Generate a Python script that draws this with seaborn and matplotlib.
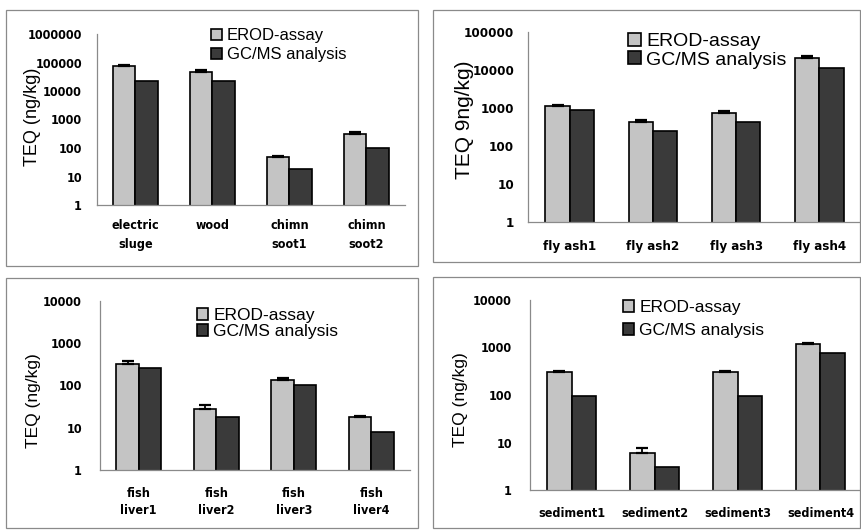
import matplotlib
matplotlib.use("Agg")
import matplotlib.pyplot as plt
import seaborn as sns
import pandas as pd
import numpy as np
from matplotlib.patches import Rectangle

# ---------------- data ----------------
methods = ["EROD-assay", "GC/MS analysis"]

samples_a = ["electric\nsluge", "wood", "chimn\nsoot1", "chimn\nsoot2"]
erod_a = [76000, 48000, 47, 320]
gcms_a = [23000, 22000, 18, 103]
err_a = [8000, 5000, 6, 45]

samples_b = ["fly ash1", "fly ash2", "fly ash3", "fly ash4"]
erod_b = [1100, 430, 720, 21000]
gcms_b = [870, 255, 430, 11000]
err_b = [120, 60, 90, 2500]

samples_c = ["fish\nliver1", "fish\nliver2", "fish\nliver3", "fish\nliver4"]
erod_c = [330, 28, 135, 17.5]
gcms_c = [255, 17.5, 103, 7.8]
err_c = [45, 6, 12, 1.7]

samples_d = ["sediment1", "sediment2", "sediment3", "sediment4"]
erod_d = [300, 5.9, 300, 1180]
gcms_d = [96, 3.1, 96, 780]
err_d = [25, 1.8, 25, 80]

ylabels = ["TEQ (ng/kg)", "TEQ 9ng/kg)", "TEQ (ng/kg)", "TEQ (ng/kg)"]
max_decades = [6, 5, 4, 4]

# ---------------- style ----------------
sns.set_theme(style="white")
plt.rcParams["font.family"] = ["Liberation Sans", "DejaVu Sans"]
plt.rcParams["text.color"] = "black"
plt.rcParams["axes.labelcolor"] = "black"
plt.rcParams["xtick.color"] = "black"
plt.rcParams["ytick.color"] = "black"

W, H = 862, 530
fig = plt.figure(figsize=(W / 100, H / 100), dpi=100)


def fr(l, t, r, b):
    return [l / W, 1 - b / H, (r - l) / W, (b - t) / H]


layout = [
    dict(box=(97, 34, 405, 205), ylab=(-0.208, 0.518, 13), leg=(211, 28, 12, 0.25),
         xpad=10, ypad=10.8, ls=1.6, tfs=9),
    dict(box=(528, 32, 861, 222), ylab=(-0.192, 0.537, 15), leg=(628, 33, 14, 0.05),
         xpad=13, ypad=10, ls=1.5, tfs=9.5),
    dict(box=(100, 301, 410, 470), ylab=(-0.216, 0.408, 12.5), leg=(197, 308, 12.5, 0.05),
         xpad=12, ypad=13, ls=1.45, tfs=9),
    dict(box=(530, 300, 862, 490), ylab=(-0.208, 0.474, 12.5), leg=(623, 300, 12.5, 0.45),
         xpad=12, ypad=13, ls=1.5, tfs=9),
]

frames = [(6, 10, 418, 266), (433, 10, 860, 262), (6, 278, 418, 528), (433, 277, 860, 528)]
for (l, t, r, b) in frames:
    fig.patches.append(Rectangle((l / W, 1 - b / H), (r - l) / W, (b - t) / H,
                                 transform=fig.transFigure, fill=False,
                                 edgecolor="#8a8a8a", linewidth=0.9))

panels = [
    (samples_a, erod_a, gcms_a, err_a),
    (samples_b, erod_b, gcms_b, err_b),
    (samples_c, erod_c, gcms_c, err_c),
    (samples_d, erod_d, gcms_d, err_d),
]

light, dark = "#c4c4c4", "#3a3a3a"

for i, ((samples, erod, gcms, err), lay) in enumerate(zip(panels, layout)):
    tick_font = dict(family="DejaVu Sans", weight="bold", stretch="condensed",
                     size=lay["tfs"], color="black")
    ax = fig.add_axes(fr(*lay["box"]))
    df = pd.DataFrame({
        "sample": samples * 2,
        "teq": list(erod) + list(gcms),
        "method": [methods[0]] * len(samples) + [methods[1]] * len(samples),
    })
    ax.set_yscale("log")
    sns.barplot(data=df, x="sample", y="teq", hue="method", hue_order=methods,
                palette=[light, dark], width=0.58, gap=0, edgecolor="black",
                linewidth=1.2, saturation=1, ax=ax)
    # error bars on EROD bars (upper only)
    bars = ax.containers[0]
    xs = [p.get_x() + p.get_width() / 2 for p in bars]
    ax.errorbar(xs, erod, yerr=[np.zeros(len(err)), err], fmt="none",
                ecolor="black", elinewidth=1.3, capsize=4.5, capthick=1.6, zorder=1)

    n = max_decades[i]
    ax.set_ylim(1, 10 ** n)
    ticks = [10 ** k for k in range(n + 1)]
    ax.set_yticks(ticks)
    ax.set_yticklabels([str(t) for t in ticks], fontdict=tick_font)
    ax.yaxis.set_minor_locator(matplotlib.ticker.NullLocator())
    ax.set_xlim(-0.5, len(samples) - 0.5)
    ax.set_xticks(range(len(samples)))
    ax.set_xticklabels(samples, fontdict=tick_font, linespacing=lay["ls"])
    ax.set_xticks([k + 0.5 for k in range(len(samples) - 1)], minor=True)
    ax.tick_params(axis="x", which="major", length=0, pad=lay["xpad"])
    ax.tick_params(axis="x", which="minor", length=3, direction="inout",
                   color="#888888", width=0.8)
    ax.tick_params(axis="y", which="major", length=0, pad=lay["ypad"])
    ax.set_xlabel("")
    ax.set_ylabel(ylabels[i], fontsize=lay["ylab"][2], va="center", color="black")
    ax.yaxis.set_label_coords(lay["ylab"][0], lay["ylab"][1])
    for s in ["top", "right"]:
        ax.spines[s].set_visible(False)
    for s in ["left", "bottom"]:
        ax.spines[s].set_color("#8a8a8a")
        ax.spines[s].set_linewidth(0.9)
    ax.set_facecolor("none")

    old = ax.get_legend()
    handles = old.legend_handles
    labels = [t.get_text() for t in old.get_texts()]
    old.remove()
    lx, ly, lfs, lsp = lay["leg"]
    leg = ax.legend(handles, labels, loc="upper left", bbox_to_anchor=(lx / W, 1 - ly / H),
                    bbox_transform=fig.transFigure, frameon=False, fontsize=lfs,
                    borderpad=0, borderaxespad=0, handlelength=0.65, handleheight=0.65,
                    handletextpad=0.3, labelspacing=lsp)
    for t in leg.get_texts():
        t.set_color("black")

fig.savefig("out.png", dpi=100, facecolor="white")
